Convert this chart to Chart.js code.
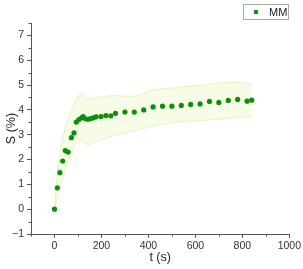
<!DOCTYPE html>
<html>
<head>
<meta charset="utf-8">
<script src="https://cdn.jsdelivr.net/npm/chart.js@4/dist/chart.umd.min.js"></script>
<style>
  html, body { margin: 0; padding: 0; background: #fff; }
  #wrap { width: 303px; height: 269px; }
</style>
</head>
<body>
<div id="wrap"><canvas id="chart" width="303" height="269"></canvas></div>
<script>
// time (s) and mean S (%)
const times = [0, 12, 23, 35, 46, 58, 72, 83, 93, 104, 115, 122, 132, 143, 154, 165, 177, 198, 219, 240,
  260, 300, 340, 380, 420, 460, 500, 540, 580, 620, 660, 700, 740, 780, 820, 840];
const meanS = [0, 0.86, 1.47, 1.94, 2.36, 2.30, 2.88, 3.07, 3.51, 3.61, 3.68, 3.73, 3.64, 3.62, 3.65, 3.68, 3.72, 3.73, 3.77, 3.76,
  3.86, 3.91, 3.91, 4.00, 4.12, 4.15, 4.15, 4.18, 4.22, 4.24, 4.34, 4.30, 4.38, 4.42, 4.35, 4.39];
// error band edges
const upperS = [0, 1.45, 2.2, 2.8, 3.3, 3.6, 3.95, 4.2, 4.4, 4.6, 4.67, 4.6, 4.45, 4.42, 4.45, 4.48, 4.5, 4.52, 4.55, 4.57,
  4.58, 4.55, 4.55, 4.65, 4.8, 4.85, 4.88, 4.92, 4.96, 4.98, 5.03, 5.07, 5.1, 5.1, 5.06, 5.05];
const lowerS = [0, 0.5, 0.85, 1.2, 1.6, 2.0, 2.3, 2.5, 2.65, 2.75, 2.8, 2.75, 2.65, 2.6, 2.62, 2.68, 2.72, 2.78, 2.85, 2.92,
  2.98, 3.05, 3.15, 3.25, 3.35, 3.42, 3.48, 3.52, 3.55, 3.57, 3.6, 3.62, 3.66, 3.7, 3.72, 3.73];

const xMajor = [0, 200, 400, 600, 800, 1000];
const xMinor = [-100, 100, 300, 500, 700, 900];
const yMajor = [-1, 0, 1, 2, 3, 4, 5, 6, 7];
const yMinor = [-0.5, 0.5, 1.5, 2.5, 3.5, 4.5, 5.5, 6.5, 7.5];

const seriesName = "MM";
const ptColor = "#0a900a";
const axisColor = "#555";
const font = "'Liberation Sans', Arial, sans-serif";

const toXY = arr => times.map((t, i) => ({ x: t, y: arr[i] }));

// short minor tick marks along both axes
const minorTicks = {
  id: "minorTicks",
  afterDraw(chart) {
    const ctx = chart.ctx;
    const xs = chart.scales.x, ys = chart.scales.y;
    ctx.save();
    ctx.strokeStyle = axisColor;
    ctx.lineWidth = 1;
    ctx.beginPath();
    xMinor.forEach(v => {
      const px = Math.round(xs.getPixelForValue(v)) + 0.5;
      ctx.moveTo(px, xs.top);
      ctx.lineTo(px, xs.top + 2.5);
    });
    yMinor.forEach(v => {
      const py = Math.round(ys.getPixelForValue(v)) + 0.5;
      ctx.moveTo(ys.right, py);
      ctx.lineTo(ys.right - 2.5, py);
    });
    ctx.stroke();
    ctx.restore();
  }
};

// boxed legend in the top right corner
const boxLegend = {
  id: "boxLegend",
  afterDraw(chart) {
    const ctx = chart.ctx;
    const ds = chart.data.datasets[2];
    ctx.save();
    ctx.fillStyle = "#fff";
    ctx.strokeStyle = "#aaa";
    ctx.lineWidth = 1;
    ctx.fillRect(243.5, 4.5, 45, 15);
    ctx.strokeRect(243.5, 4.5, 45, 15);
    ctx.fillStyle = ds.backgroundColor;
    ctx.beginPath();
    ctx.arc(256, 12, 2.3, 0, Math.PI * 2);
    ctx.fill();
    ctx.fillStyle = "#222";
    ctx.font = "11px " + font;
    ctx.textBaseline = "middle";
    ctx.textAlign = "left";
    ctx.fillText(ds.label, 269, 12.5);
    ctx.restore();
  }
};

new Chart(document.getElementById("chart"), {
  type: "scatter",
  data: {
    datasets: [
      {
        label: "upper",
        data: toXY(upperS),
        order: 2,
        showLine: true,
        pointRadius: 0,
        borderColor: "rgba(210,238,150,0.6)",
        borderWidth: 1,
        backgroundColor: "rgba(228,245,180,0.35)",
        fill: "+1",
        tension: 0.25
      },
      {
        label: "lower",
        data: toXY(lowerS),
        order: 2,
        showLine: true,
        pointRadius: 0,
        borderColor: "rgba(210,238,150,0.6)",
        borderWidth: 1,
        fill: false,
        tension: 0.25
      },
      {
        label: seriesName,
        data: toXY(meanS),
        order: 0,
        pointRadius: 2.6,
        pointBackgroundColor: ptColor,
        pointBorderWidth: 0,
        backgroundColor: ptColor,
        borderColor: ptColor
      }
    ]
  },
  options: {
    responsive: false,
    animation: false,
    layout: { padding: { left: 0, right: 11, top: 23, bottom: 0 } },
    plugins: {
      legend: { display: false },
      tooltip: { enabled: false }
    },
    scales: {
      x: {
        type: "linear",
        min: -100,
        max: 1000,
        afterBuildTicks: s => { s.ticks = xMajor.map(v => ({ value: v })); },
        afterFit: s => { s.height = 35; },
        border: { color: axisColor, width: 1 },
        grid: { drawOnChartArea: false, drawTicks: true, tickLength: 4, tickColor: axisColor },
        ticks: { color: "#333", padding: 2, maxRotation: 0, font: { family: font, size: 10.5 }, callback: v => String(v) },
        title: { display: true, text: "t (s)", color: "#222", padding: { top: 0, bottom: 4 }, font: { family: font, size: 12.5 } }
      },
      y: {
        type: "linear",
        min: -1,
        max: 7.5,
        afterBuildTicks: s => { s.ticks = yMajor.map(v => ({ value: v })); },
        afterFit: s => { s.width = 31; },
        border: { color: axisColor, width: 1 },
        grid: { drawOnChartArea: false, drawTicks: true, tickLength: 4, tickColor: axisColor },
        ticks: {
          color: "#333",
          padding: 3,
          font: { family: font, size: 10.5 },
          callback: v => (v < 0 ? "\u2212" + Math.abs(v) : String(v))
        },
        title: { display: true, text: "S (%)", color: "#222", padding: { top: 4, bottom: 0 }, font: { family: font, size: 12.5 } }
      }
    }
  },
  plugins: [minorTicks, boxLegend]
});
</script>
</body>
</html>
